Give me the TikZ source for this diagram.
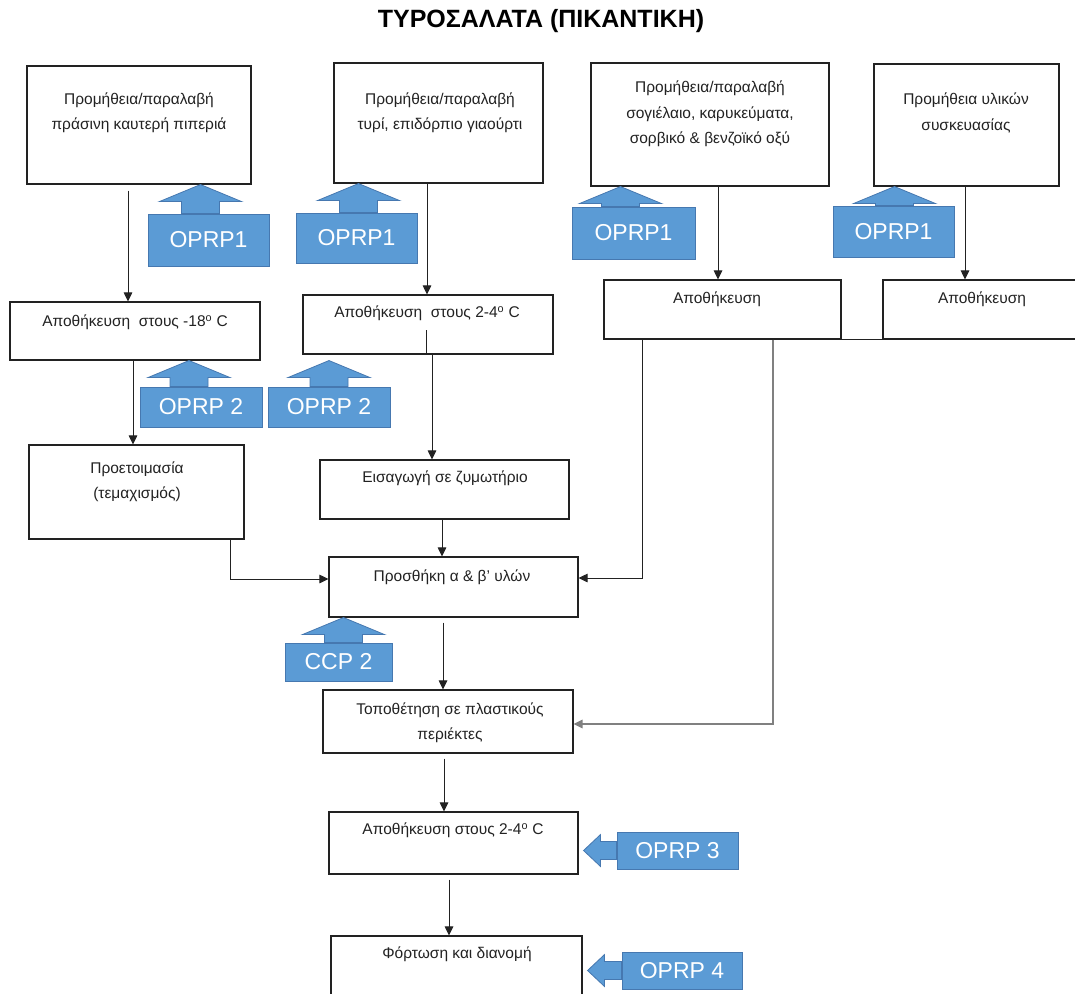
\documentclass[tikz,border=0pt]{standalone}
\usepackage{fontspec}
\setmainfont{Liberation Sans}
\usetikzlibrary{arrows.meta,calc,positioning}
\definecolor{tagBlue}{HTML}{5B9BD5}
\definecolor{tagEdge}{HTML}{4678B0}
\definecolor{stepInk}{HTML}{222222}

% block arrow from a tag box up to the step above it
\newcommand{\tagup}[3][0]{\filldraw[tagarrow] ($(#2.north |- #3.south)+(#1,0)$) -- ++(41,17) -- ++(-22,0) -- ($(#2.north)+(#1+19,0)$) -- ($(#2.north)+(#1-19,0)$) -- ($(#2.north |- #3.south)+(#1-19,17)$) -- ++(-22,0) -- cycle;}
% block arrow from a tag box left to the step beside it
\newcommand{\tagleft}[2]{\filldraw[tagarrow] ($(#2.east |- #1.west)+(5,0)$) -- ++(17,-16) -- ++(0,7) -- ($(#1.west)+(0,-9)$) -- ($(#1.west)+(0,9)$) -- ($(#2.east |- #1.west)+(22,9)$) -- ++(0,7) -- cycle;}

\begin{document}
\begin{tikzpicture}[x=1pt,y=-1pt,>=Latex,line join=miter]
\tikzset{stepbox/.style={draw=stepInk,fill=white,line width=1.1pt,inner sep=0pt},steptext/.style={text=stepInk,font=\fontsize{15.5}{25.5}\selectfont,align=center,inner sep=0pt},flowline/.style={draw=stepInk,line width=1pt,-{Triangle[length=9pt,width=8.5pt]}},tagbox/.style={fill=tagBlue,draw=tagEdge,line width=0.8pt,text=white,font=\fontsize{23}{23}\selectfont,inner sep=0pt},tagarrow/.style={fill=tagBlue,draw=tagEdge,line width=0.8pt}}
\path[fill=white] (0,0) rectangle (1075,993);
\useasboundingbox (0,0) rectangle (1075,993);
\clip (0,0) rectangle (1075,993);
\node[font=\bfseries\fontsize{25}{28}\selectfont] (title) at (541,21) {ΤΥΡΟΣΑΛΑΤΑ (ΠΙΚΑΝΤΙΚΗ)};
% supply
\node[stepbox,minimum width=224,minimum height=118] (a1) at (139,125) {};
\node[steptext] (a1t) at (139,113) {Προμήθεια/παραλαβή\\πράσινη καυτερή πιπεριά};
\node[stepbox,minimum width=209,minimum height=120] (a2) at (438.5,123) {};
\node[steptext] (a2t) at (440,113) {Προμήθεια/παραλαβή\\τυρί, επιδόρπιο γιαούρτι};
\node[stepbox,minimum width=238,minimum height=123] (a3) at (710,124.5) {};
\node[steptext] (a3t) at (710,114) {Προμήθεια/παραλαβή\\σογιέλαιο, καρυκεύματα,\\σορβικό \& βενζοϊκό οξύ};
\node[stepbox,minimum width=185,minimum height=122] (a4) at (966.5,125) {};
\node[steptext] (a4t) at (966,113) {Προμήθεια υλικών\\συσκευασίας};
% storage
\node[stepbox,minimum width=250,minimum height=58] (b1) at (135,331) {};
\node[steptext] (b1t) at (135,322) {Αποθήκευση\ \ στους -18\textsuperscript{o} C};
\node[stepbox,minimum width=250,minimum height=59] (b2) at (428,324.5) {};
\node[steptext] (b2t) at (427,313) {Αποθήκευση\ \ στους 2-4\textsuperscript{o} C};
\node[stepbox,minimum width=237,minimum height=59] (b3) at (722.5,309.5) {};
\node[steptext] (b3t) at (717,299) {Αποθήκευση};
\node[stepbox,minimum width=199,minimum height=59] (b4) at (982.5,309.5) {};
\node[steptext] (b4t) at (982,299) {Αποθήκευση};
% processing
\node[stepbox,minimum width=215,minimum height=94] (c1) at (136.5,492) {};
\node[steptext] (c1t) at (137,482) {Προετοιμασία\\(τεμαχισμός)};
\node[stepbox,minimum width=249,minimum height=59] (c2) at (444.5,489.5) {};
\node[steptext] (c2t) at (445,478) {Εισαγωγή σε ζυμωτήριο};
\node[stepbox,minimum width=249,minimum height=60] (d) at (453.5,587) {};
\node[steptext] (dt) at (452,577) {Προσθήκη α \& β' υλών};
\node[stepbox,minimum width=250,minimum height=63] (e) at (448,721.5) {};
\node[steptext] (et) at (450,723) {Τοποθέτηση σε πλαστικούς\\περιέκτες};
\node[stepbox,minimum width=249,minimum height=62] (f) at (453.5,843) {};
\node[steptext] (ft) at (453,830) {Αποθήκευση στους 2-4\textsuperscript{o} C};
\node[stepbox,minimum width=251,minimum height=64] (g) at (456.5,968) {};
\node[steptext] (gt) at (457,954) {Φόρτωση και διανομή};
% flow
\draw[flowline] ([xshift=-11pt,yshift=-6pt]a1.south) -- ([xshift=-11pt]a1.south |- b1.north);
\draw[flowline] ([xshift=-11.5pt]a2.south) -- ([xshift=-11.5pt]a2.south |- b2.north);
\draw[flowline] ([xshift=8pt]a3.south) -- ([xshift=8pt]a3.south |- b3.north);
\draw[flowline] ([xshift=-1.5pt]a4.south) -- ([xshift=-1.5pt]a4.south |- b4.north);
\draw[stepInk,line width=1.1pt] (b3.south east) -- (b4.south west);
\draw[flowline] ([xshift=-2pt]b1.south) -- ([xshift=-2pt]b1.south |- c1.north);
\draw[stepInk,line width=1pt] ([xshift=-2pt]b2.south) -- ++(0,-25);
\draw[flowline] ([xshift=4pt]b2.south) -- ([xshift=4pt]b2.south |- c2.north);
\draw[flowline] ([xshift=-2.5pt]c2.south) -- ([xshift=-2.5pt]c2.south |- d.north);
\draw[flowline] ([xshift=93.5pt]c1.south) |- ([yshift=8pt]d.west);
\draw[flowline] ([xshift=-80.5pt]b3.south) |- ([yshift=9pt]d.east);
\draw[flowline,draw=black!50,line width=1.4pt] ([xshift=50.5pt]b3.south) |- ([yshift=-2.5pt]e.east);
\draw[flowline] ([xshift=-10.5pt,yshift=-5pt]d.south) -- ([xshift=-10.5pt]d.south |- e.north);
\draw[flowline] ([xshift=-4pt,yshift=-5pt]e.south) -- ([xshift=-4pt]e.south |- f.north);
\draw[flowline] ([xshift=-4.5pt,yshift=-5pt]f.south) -- ([xshift=-4.5pt]f.south |- g.north);
% control points
\node[tagbox,minimum width=121,minimum height=52] (o1) at (208.5,240) {OPRP1};
\node[tagbox,minimum width=121,minimum height=50] (o2) at (356.5,238) {OPRP1};
\node[tagbox,minimum width=123,minimum height=52] (o3) at (633.5,233) {OPRP1};
\node[tagbox,minimum width=121,minimum height=51] (o4) at (893.5,231.5) {OPRP1};
\node[tagbox,minimum width=122,minimum height=40] (p1) at (201,407) {OPRP 2};
\node[tagbox,minimum width=122,minimum height=40] (p2) at (329,407) {OPRP 2};
\node[tagbox,minimum width=107,minimum height=38] (c2tag) at (338.5,662) {CCP 2};
\node[tagbox,minimum width=121,minimum height=37] (p3) at (677.5,850.5) {OPRP 3};
\node[tagbox,minimum width=120,minimum height=37] (p4) at (682,970.5) {OPRP 4};
\tagup[-8]{o1}{a1}
\tagup[2]{o2}{a2}
\tagup[-13]{o3}{a3}
\tagup[1]{o4}{a4}
\tagup[-12]{p1}{b1}
\tagup{p2}{b1}
\tagup[5]{c2tag}{d}
\tagleft{p3}{f}
\tagleft{p4}{g}
\end{tikzpicture}
\end{document}
